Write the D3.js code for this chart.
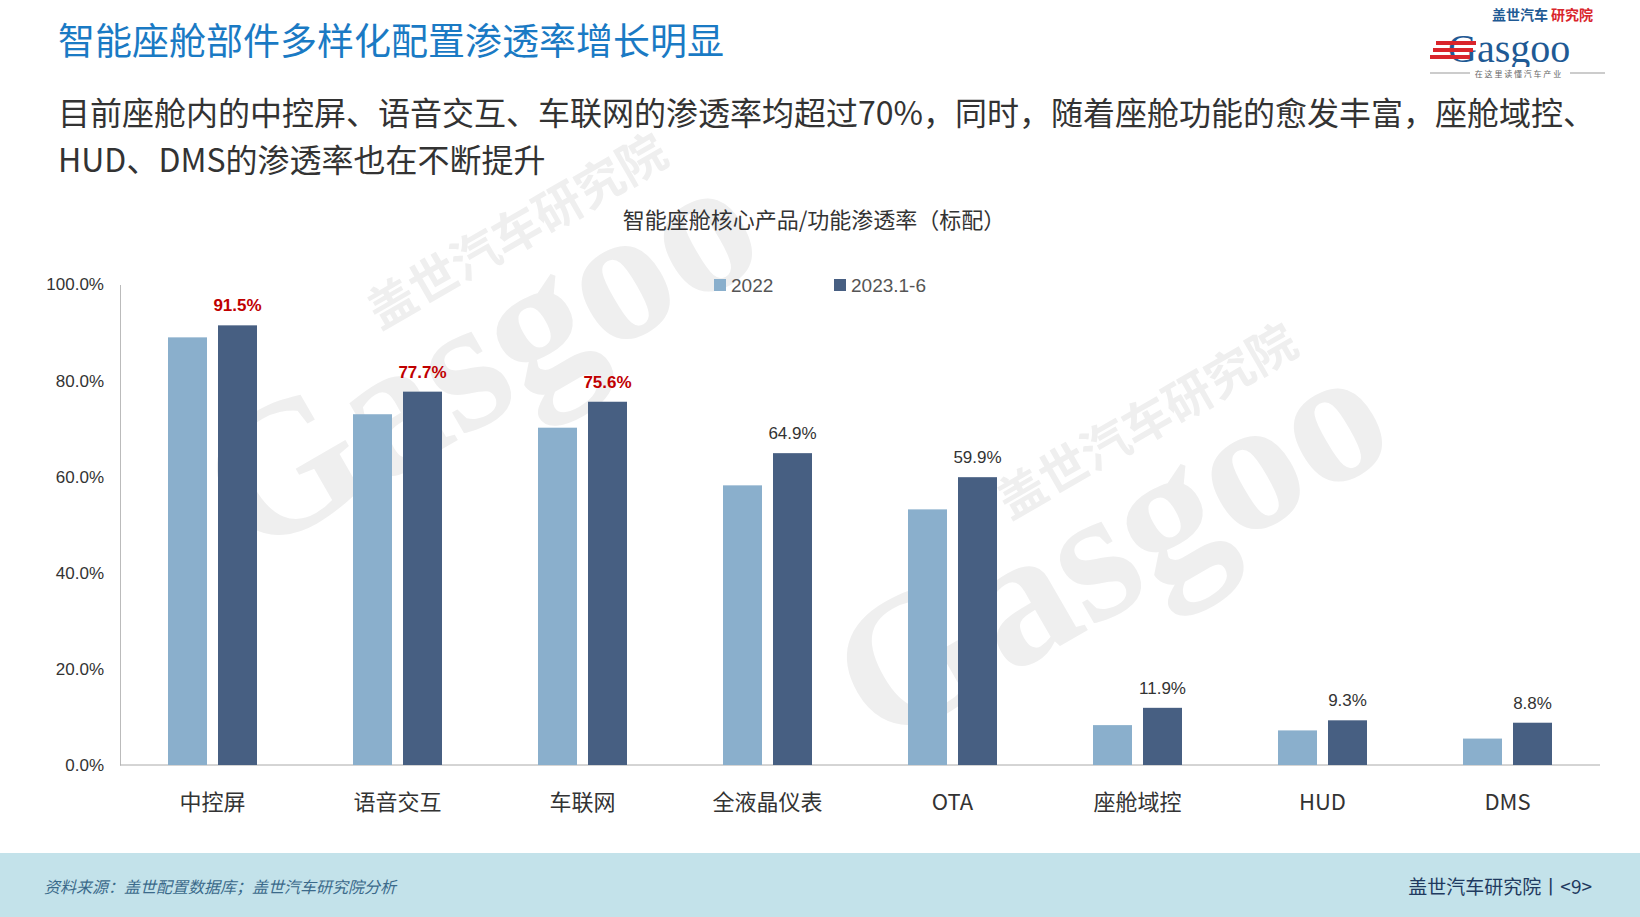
<!DOCTYPE html>
<html><head><meta charset="utf-8">
<script src="https://cdn.jsdelivr.net/npm/d3@7"></script>
<style>body{margin:0;background:#fff}svg{display:block;font-family:"Noto Sans CJK SC","Noto Sans",sans-serif}</style>
</head><body><svg id="c" width="1640" height="917"></svg>
<script>
const categories=["中控屏","语音交互","车联网","全液晶仪表","OTA","座舱域控","HUD","DMS"];
const values2022=[89.0,73.0,70.2,58.2,53.2,8.3,7.2,5.5];
const values2023=[91.5,77.7,75.6,64.9,59.9,11.9,9.3,8.8];
const seriesNames=["2022","2023.1-6"];
const yTicks=[0,20,40,60,80,100];
const highlight=[true,true,true,false,false,false,false,false];

const svg=d3.select("#c");
svg.append("rect").attr("x",0).attr("y",853).attr("width",1640).attr("height",64).attr("fill","#c3e2ea");
svg.append("text").attr("x",44).attr("y",893).attr("font-size",16).attr("font-style","italic").attr("fill","#3b6a8a").text("资料来源：盖世配置数据库；盖世汽车研究院分析");
svg.append("text").attr("x",1592).attr("y",894).attr("text-anchor","end").attr("font-size",19).attr("fill","#1f3a5f").text("盖世汽车研究院丨<9>");
const wm=svg.append("g").attr("fill","#efefef").attr("font-weight","bold");
wm.append("text").attr("transform","translate(380,330) rotate(-30)").attr("font-size",48).text("盖世汽车研究院");
wm.append("text").attr("transform","translate(250,560) rotate(-30)").attr("font-size",190).attr("font-family","Liberation Serif").text("Gasgoo");
wm.append("text").attr("transform","translate(1010,520) rotate(-30)").attr("font-size",48).text("盖世汽车研究院");
wm.append("text").attr("transform","translate(880,750) rotate(-30)").attr("font-size",190).attr("font-family","Liberation Serif").text("Gasgoo");
svg.append("text").attr("x",58).attr("y",55).attr("font-size",37).attr("fill","#1a7ac4").text("智能座舱部件多样化配置渗透率增长明显");
svg.append("text").attr("x",58).attr("y",125).attr("font-size",32).attr("fill","#333").text("目前座舱内的中控屏、语音交互、车联网的渗透率均超过70%，同时，随着座舱功能的愈发丰富，座舱域控、");
svg.append("text").attr("x",58).attr("y",172).attr("font-size",32).attr("fill","#333").text("HUD、DMS的渗透率也在不断提升");
const lg=svg.append("g");
lg.append("text").attr("x",1492).attr("y",20).attr("font-size",14).attr("font-weight","bold").attr("fill","#1f5a94").text("盖世汽车");
lg.append("text").attr("x",1551).attr("y",20).attr("font-size",14).attr("font-weight","bold").attr("fill","#d9252b").text("研究院");
lg.append("text").attr("x",1448).attr("y",62).attr("font-size",40).attr("font-family","Liberation Serif").attr("fill","#1f5a94").text("Gasgoo");
[41,48,55].forEach((yy,i)=>lg.append("rect").attr("x",1436-i*3).attr("y",yy).attr("width",40).attr("height",4).attr("fill","#d9252b"));
lg.append("line").attr("x1",1430).attr("x2",1605).attr("y1",73).attr("y2",73).attr("stroke","#999");
lg.append("rect").attr("x",1470).attr("y",67).attr("width",100).attr("height",12).attr("fill","#fff");
lg.append("text").attr("x",1518).attr("y",77).attr("text-anchor","middle").attr("font-size",8).attr("fill","#666").text("在 这 里 读 懂 汽 车 产 业");
svg.append("text").attr("x",814).attr("y",228).attr("text-anchor","middle").attr("font-size",22).attr("fill","#333").text("智能座舱核心产品/功能渗透率（标配）");
const x0=d3.scaleBand().domain(categories).range([120,1600]);
const y=d3.scaleLinear().domain([0,100]).range([765,284.5]);
const colors=["#8aafcc","#475f82"];
const bw=39,gap=11;
svg.append("g").attr("transform","translate(120,0)")
 .call(d3.axisLeft(y).tickValues(yTicks).tickFormat(d=>d.toFixed(1)+"%").tickSize(0).tickPadding(16))
 .call(g=>{g.select(".domain").attr("stroke","#bbb");g.selectAll("text").attr("font-size",17).attr("fill","#333").attr("font-family","Liberation Sans");});
svg.append("line").attr("x1",120).attr("x2",1600).attr("y1",y(0)).attr("y2",y(0)).attr("stroke","#aaa");
const cx=d=>x0(d)+x0.bandwidth()/2;
[values2022,values2023].forEach((vals,s)=>{
 svg.append("g").selectAll("rect").data(categories).join("rect")
  .attr("x",d=>cx(d)+(s===0?-(bw+gap/2):gap/2)).attr("width",bw)
  .attr("y",(d,i)=>y(vals[i])).attr("height",(d,i)=>y(0)-y(vals[i])).attr("fill",colors[s]);
});
svg.append("g").selectAll("text").data(categories).join("text")
 .attr("x",d=>cx(d)+gap/2+bw/2).attr("y",(d,i)=>y(values2023[i])-14).attr("text-anchor","middle")
 .attr("font-family","Liberation Sans").attr("font-size",17)
 .attr("font-weight",(d,i)=>highlight[i]?"bold":"normal").attr("fill",(d,i)=>highlight[i]?"#c00000":"#333")
 .text((d,i)=>values2023[i].toFixed(1)+"%");
svg.append("g").selectAll("text").data(categories).join("text")
 .attr("x",cx).attr("y",810).attr("text-anchor","middle").attr("font-size",22).attr("fill","#333").text(d=>d);
seriesNames.forEach((n,i)=>{
 const lx=714+i*120;
 svg.append("rect").attr("x",lx).attr("y",279).attr("width",12).attr("height",12).attr("fill",colors[i]);
 svg.append("text").attr("x",lx+17).attr("y",292).attr("font-size",19).attr("fill","#555").attr("font-family","Liberation Sans").text(n);
});
</script></body></html>
